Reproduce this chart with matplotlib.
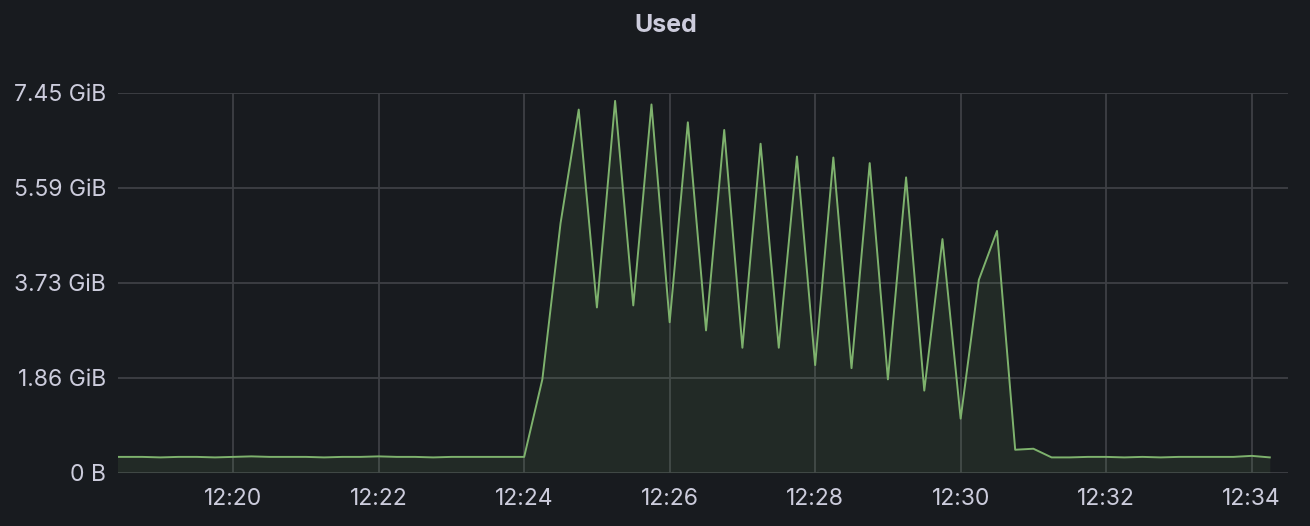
import matplotlib
matplotlib.use("Agg")
import matplotlib.pyplot as plt
import matplotlib.dates as mdates
import pandas as pd

# ---- data ----
title = "Used"
start_time = "2024-01-01 12:18:15"
step_seconds = 15
used_gib = [
    # 12:18:15 .. 12:23:45 idle
    0.31, 0.31, 0.31, 0.30, 0.31, 0.31, 0.30, 0.31, 0.32, 0.31, 0.31, 0.31,
    0.30, 0.31, 0.31, 0.32, 0.31, 0.31, 0.30, 0.31, 0.31, 0.31, 0.31,
    # 12:24:00 .. load
    0.31, 1.83, 4.89, 7.12, 3.24, 7.29, 3.28, 7.22, 2.95, 6.87, 2.79, 6.72,
    2.45, 6.45, 2.45, 6.20, 2.11, 6.18, 2.05, 6.07, 1.83, 5.79, 1.61, 4.58,
    1.06, 3.78, 4.74, 0.45, 0.47,
    # 12:31:15 .. 12:34:15 idle
    0.30, 0.30, 0.31, 0.31, 0.30, 0.31, 0.30, 0.31, 0.31, 0.31, 0.31, 0.33, 0.30,
]
y_tick_values_gib = [0.0, 2e9 / 2**30, 4e9 / 2**30, 6e9 / 2**30, 8e9 / 2**30]
y_tick_labels = ["0 B", "1.86 GiB", "3.73 GiB", "5.59 GiB", "7.45 GiB"]
x_start = "2024-01-01 12:18:25"
x_end = "2024-01-01 12:34:30"

times = pd.date_range(start=start_time, periods=len(used_gib), freq=f"{step_seconds}s")

# ---- style ----
bg = "#181b1f"
grid_c = "#3e4045"
text_c = "#ccccdc"
line_c = "#7eb26d"

plt.rcParams["font.family"] = ["Inter", "DejaVu Sans"]

fig = plt.figure(figsize=(13.1, 5.26), dpi=100, facecolor=bg)
ax = fig.add_axes([118 / 1310, 53.3 / 526, (1288 - 118) / 1310, (472.7 - 92.7) / 526])
ax.set_facecolor(bg)

ax.plot(times, used_gib, color=line_c, lw=1.4, zorder=3)
ax.fill_between(times, used_gib, 0, color=line_c, alpha=0.1, lw=0, zorder=2)

ax.set_xlim(pd.Timestamp(x_start), pd.Timestamp(x_end))
ax.set_ylim(0, y_tick_values_gib[-1])
ax.set_yticks(y_tick_values_gib)
ax.set_yticklabels(y_tick_labels)

ax.xaxis.set_major_locator(mdates.MinuteLocator(byminute=range(0, 60, 2)))
ax.xaxis.set_major_formatter(mdates.DateFormatter("%H:%M"))

ax.grid(True, color=grid_c, lw=1.3, zorder=1)
ax.set_axisbelow(True)
for s in ax.spines.values():
    s.set_visible(False)
ax.tick_params(axis="both", length=0, colors=text_c, labelsize=16.5)
ax.tick_params(axis="y", pad=8.5)
ax.tick_params(axis="x", pad=11)

fig.text(666 / 1310, 1 - 25 / 526, title, ha="center", va="center",
         color=text_c, fontsize=18, fontweight="bold")

fig.savefig("out.png", dpi=100, facecolor=bg)
